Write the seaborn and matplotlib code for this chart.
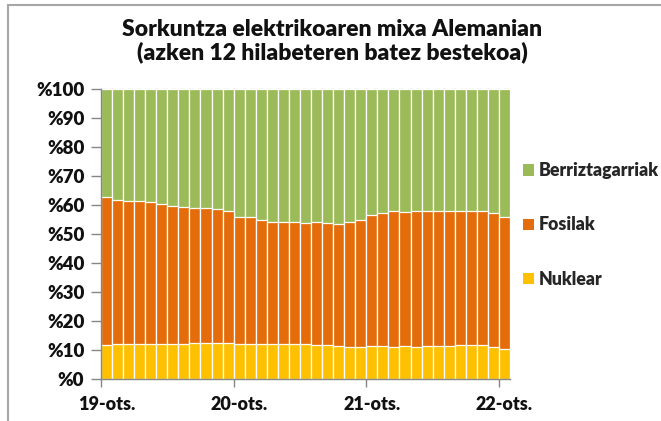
import matplotlib
matplotlib.use("Agg")
import matplotlib.pyplot as plt
import seaborn as sns
import pandas as pd
import numpy as np
from matplotlib.patches import Patch
from matplotlib.lines import Line2D

# ---- data (shares, %) ----
months = pd.date_range("2019-10-01", "2022-10-01", freq="MS")
nuklear = [11.7, 12.0, 12.1, 12.1, 12.0, 12.0, 11.9, 12.1, 12.3, 12.3, 12.3, 12.3,
           12.1, 12.0, 12.0, 12.0, 12.1, 12.0, 11.9, 11.7, 11.6, 11.3, 11.2, 11.2,
           11.4, 11.4, 11.2, 11.3, 11.2, 11.5, 11.5, 11.5, 11.6, 11.7, 11.6, 11.0, 10.5]
fosilak = [51.0, 49.6, 49.3, 49.3, 48.9, 48.2, 47.9, 47.3, 46.8, 46.5, 46.2, 45.5,
           43.9, 43.7, 43.0, 42.3, 42.2, 42.0, 42.0, 42.5, 42.1, 42.0, 42.8, 43.8,
           45.0, 45.7, 46.6, 46.4, 46.6, 46.5, 46.3, 46.3, 46.2, 46.4, 46.4, 46.3, 45.5]
berriztagarriak = [37.3, 38.4, 38.6, 38.6, 39.1, 39.8, 40.2, 40.6, 40.9, 41.2, 41.5, 42.2,
                   44.0, 44.3, 45.0, 45.7, 45.7, 46.0, 46.1, 45.8, 46.3, 46.7, 46.0, 45.0,
                   43.6, 42.9, 42.2, 42.3, 42.2, 42.0, 42.2, 42.2, 42.2, 41.9, 42.0, 42.7, 44.0]
series_names = ["Berriztagarriak", "Fosilak", "Nuklear"]
colors = {"Berriztagarriak": "#9BBB59", "Fosilak": "#E46C0A", "Nuklear": "#FFC000"}
year_labels = ["19-ots.", "20-ots.", "21-ots.", "22-ots."]
title = "Sorkuntza elektrikoaren mixa Alemanian\n(azken 12 hilabeteren batez bestekoa)"

sns.set_style("white")
plt.rcParams["font.family"] = ["Lato", "DejaVu Sans"]
W = "heavy"
plt.rcParams["font.weight"] = W

df = pd.DataFrame({"month": months.strftime("%Y-%m"),
                   "Nuklear": nuklear, "Fosilak": fosilak,
                   "Berriztagarriak": berriztagarriak})
df["cum_nuk"] = df["Nuklear"]
df["cum_fos"] = df["Nuklear"] + df["Fosilak"]
df["cum_all"] = df["cum_fos"] + df["Berriztagarriak"]
order = list(df["month"])

fig = plt.figure(figsize=(6.61, 4.21), dpi=100)
ax = fig.add_axes([101 / 661, 42 / 421, 409 / 661, 290 / 421])

for col, name in [("cum_all", "Berriztagarriak"), ("cum_fos", "Fosilak"), ("cum_nuk", "Nuklear")]:
    sns.barplot(data=df, x="month", y=col, order=order, color=colors[name],
                width=1.0, edgecolor="white", linewidth=0.9, saturation=1,
                errorbar=None, ax=ax, zorder=2)

ax.set_xlim(-0.5, len(order) - 0.5)
ax.set_ylim(0, 100)
ax.set_xlabel("")
ax.set_ylabel("")

# y axis
yt = np.arange(0, 101, 10)
ax.set_yticks(yt)
ax.set_yticklabels([f"%{v}" for v in yt], fontsize=13.5, fontweight=W, color="#111111")
ax.tick_params(axis="y", direction="out", length=7, width=1, color="#868686", pad=5, left=True)

# x axis: labels centred on year-start bars, tick marks at bar edges
year_idx = [0, 12, 24, 36]
ax.set_xticks(year_idx)
ax.set_xticklabels(year_labels, fontsize=13, fontweight=W, color="#111111")
ax.tick_params(axis="x", which="major", length=0, pad=12)
ax.set_xticks([i - 0.5 for i in year_idx], minor=True)
ax.tick_params(axis="x", which="minor", direction="out", length=6, width=1,
               color="#868686", bottom=True)

# grid
ax.set_axisbelow(True)
for v in yt[1:]:
    ax.axhline(v, color="#BFBFBF", lw=0.9, ls=(0, (4, 3)), zorder=0.5, clip_on=False)
for i in year_idx[1:]:
    ax.axvline(i - 0.5, color="#BFBFBF", lw=0.9, ls=(0, (4, 3)), zorder=0.5)

for s in ["top", "right"]:
    ax.spines[s].set_visible(False)
for s in ["left", "bottom"]:
    ax.spines[s].set_color("#868686")
    ax.spines[s].set_linewidth(1)
    ax.spines[s].set_zorder(3)

# title
fig.text(332 / 661, 1 - 41 / 421, title, ha="center", va="center", fontsize=16.5,
         fontweight=W, color="#111111", linespacing=1.1)

# legend
handles = [Patch(facecolor=colors[n], edgecolor="none") for n in series_names]
fig.legend(handles, series_names, loc="center left",
           bbox_to_anchor=(523 / 661, 1 - 225 / 421), frameon=False,
           prop={"weight": W, "size": 12.8},
           handlelength=0.6, handleheight=0.6, handletextpad=0.3,
           labelspacing=2.1, borderpad=0, borderaxespad=0)

# chart border (top & left visible)
fig.add_artist(Line2D([8 / 661, 1], [1 - 5 / 421, 1 - 5 / 421], transform=fig.transFigure,
                      color="#A6A6A6", lw=1.5))
fig.add_artist(Line2D([8 / 661, 8 / 661], [0, 1 - 5 / 421], transform=fig.transFigure,
                      color="#A6A6A6", lw=1.5))

fig.savefig("out.png", dpi=100)
